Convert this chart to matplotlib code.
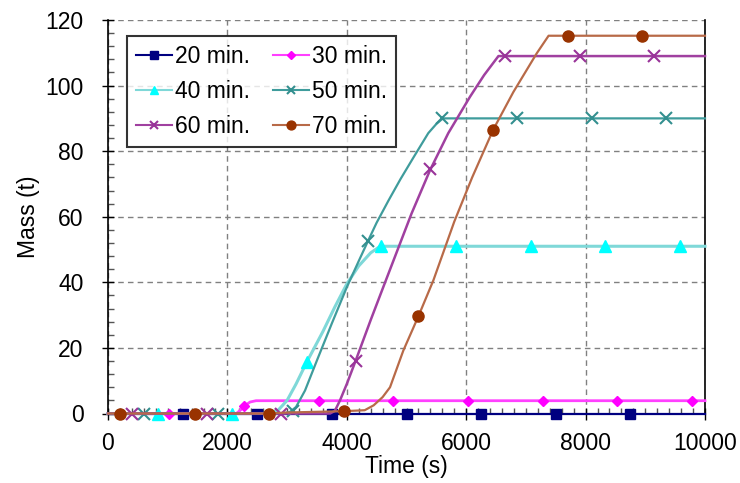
import matplotlib
matplotlib.use("Agg")
import matplotlib.pyplot as plt
from matplotlib.ticker import MultipleLocator
from matplotlib.lines import Line2D

plt.rcParams['font.family'] = ['Liberation Sans', 'DejaVu Sans']

# ---- data ----
labels = ["20 min.", "30 min.", "40 min.", "50 min.", "60 min.", "70 min."]

t20 = [0, 10000]
m20 = [0, 0]
t30 = [0, 2150, 2230, 2300, 2380, 2480, 10000]
m30 = [0, 0, 1.2, 2.5, 3.5, 3.9, 3.9]
t40 = [0, 2700, 2850, 3000, 3150, 3330, 3600, 3800, 4000, 4200, 4400, 4560, 10000]
m40 = [0, 0, 1, 4, 9, 15.7, 25, 32.5, 39.5, 45, 49, 51, 51]
t50 = [0, 2950, 3050, 3150, 3300, 3500, 3750, 4000, 4200, 4360, 4500, 4700, 4900, 5114, 5365, 5500, 5610, 10000]
m50 = [0, 0, 0.5, 2, 7, 16.2, 27.5, 38.5, 46.5, 52.8, 58.2, 65, 71.5, 78, 85.5, 88.3, 90, 90]
t60 = [0, 3720, 3800, 3886, 4000, 4140, 4400, 4612, 5085, 5394, 5700, 6064, 6300, 6540, 10000]
m60 = [0, 0, 0.8, 4, 9, 15.7, 28.5, 38.6, 61, 74.2, 85.5, 96.6, 103.2, 109, 109]
t70 = [0, 2700, 3000, 3950, 4300, 4450, 4600, 4724, 4947, 5198, 5450, 5800, 6100, 6454, 6789, 7180, 7380, 10000]
m70 = [0, 0, 0.3, 0.7, 1, 2.5, 5, 8, 19.2, 29.6, 40.6, 58.5, 72, 86.6, 98, 109.8, 115.2, 115.2]

mk_t20 = [1250, 2500, 3750, 5000, 6250, 7500, 8750]
mk_m20 = [0, 0, 0, 0, 0, 0, 0]
mk_t30 = [1030, 2280, 3530, 4780, 6030, 7280, 8530, 9780]
mk_m30 = [0, 2.2, 3.9, 3.9, 3.9, 3.9, 3.9, 3.9]
mk_t40 = [830, 2080, 3330, 4580, 5830, 7080, 8330, 9580]
mk_m40 = [0, 0, 15.7, 51, 51, 51, 51, 51]
mk_t50 = [600, 1850, 3100, 4350, 5600, 6850, 8100, 9350]
mk_m50 = [0, 0, 0.8, 52.5, 90, 90, 90, 90]
mk_t60 = [400, 1650, 2900, 4150, 5400, 6650, 7900, 9150]
mk_m60 = [0, 0, 0, 16, 74.5, 109, 109, 109]
mk_t70 = [200, 1450, 2700, 3950, 5200, 6450, 7700, 8950]
mk_m70 = [0, 0, 0, 0.7, 29.6, 86.6, 115.2, 115.2]

x_ticks = [0, 2000, 4000, 6000, 8000, 10000]
y_ticks = [0, 20, 40, 60, 80, 100, 120]

# ---- styles ----
line_colors = ['#000080', '#ff40ff', '#7fd8d8', '#3f9c9c', '#a040a0', '#b86a48']
mk_colors = ['#000080', '#ff00ff', '#00ffff', '#338f8f', '#993399', '#993300']
mk_styles = ['s', 'D', '^', 'x', 'x', 'o']
mk_sizes = [7, 5, 8, 8, 8, 8]
line_w = [1.6, 2.0, 2.2, 1.6, 1.8, 1.6]
FS = 16.5

series = [(t20, m20, mk_t20, mk_m20), (t30, m30, mk_t30, mk_m30),
          (t40, m40, mk_t40, mk_m40), (t50, m50, mk_t50, mk_m50),
          (t60, m60, mk_t60, mk_m60), (t70, m70, mk_t70, mk_m70)]

fig = plt.figure(figsize=(7.4, 4.83), dpi=100)
ax = fig.add_axes([108/740, 1-413.5/483, (705-108)/740, (413.5-20)/483])

handles = []
for i, (t, m, mt, mm) in enumerate(series):
    ax.plot(t, m, color=line_colors[i], lw=line_w[i], zorder=3+i, clip_on=False)
    mew = 1.5 if mk_styles[i] == 'x' else 1
    ax.plot(mt, mm, linestyle='none', marker=mk_styles[i], ms=mk_sizes[i],
            color=mk_colors[i], mec=mk_colors[i], mew=mew, zorder=3+i, clip_on=False)
    handles.append(Line2D([], [], color=line_colors[i], lw=1.5, marker=mk_styles[i],
                          ms=mk_sizes[i]*0.8, mfc=mk_colors[i], mec=mk_colors[i], mew=mew))

ax.set_xlim(0, 10000)
ax.set_ylim(0, 120)
ax.set_xticks(x_ticks)
ax.set_yticks(y_ticks)
ax.xaxis.set_minor_locator(MultipleLocator(200))
ax.yaxis.set_minor_locator(MultipleLocator(4))
ax.tick_params(axis='both', which='major', direction='inout', length=9, width=1, labelsize=FS, color='black')
ax.tick_params(axis='both', which='minor', direction='in', length=4, width=1, color='#555555')
ax.tick_params(axis='x', which='major', pad=9)
ax.tick_params(axis='y', which='major', pad=13)

ax.grid(True, which='major', color='#808080', linestyle=(0, (4, 3)), lw=1)
ax.set_axisbelow(True)
for s in ['left', 'bottom', 'right']:
    ax.spines[s].set_color('black')
    ax.spines[s].set_linewidth(1.2)
ax.spines['top'].set_visible(False)

ax.set_xlabel('Time (s)', fontsize=FS, labelpad=0)
ax.set_ylabel('Mass (t)', fontsize=FS, labelpad=4)

order = [0, 2, 4, 1, 3, 5]
leg = ax.legend([handles[k] for k in order], [labels[k] for k in order],
                ncol=2, loc='upper left', bbox_to_anchor=(19/597, 1-16/393.5),
                fontsize=FS, frameon=True, fancybox=False, edgecolor='black',
                handlelength=1.6, handletextpad=0.1, columnspacing=1.0,
                labelspacing=0.53, borderpad=0.38, borderaxespad=0)
leg.get_frame().set_linewidth(1.5)
leg.set_zorder(20)

fig.savefig('out.png', dpi=100)
